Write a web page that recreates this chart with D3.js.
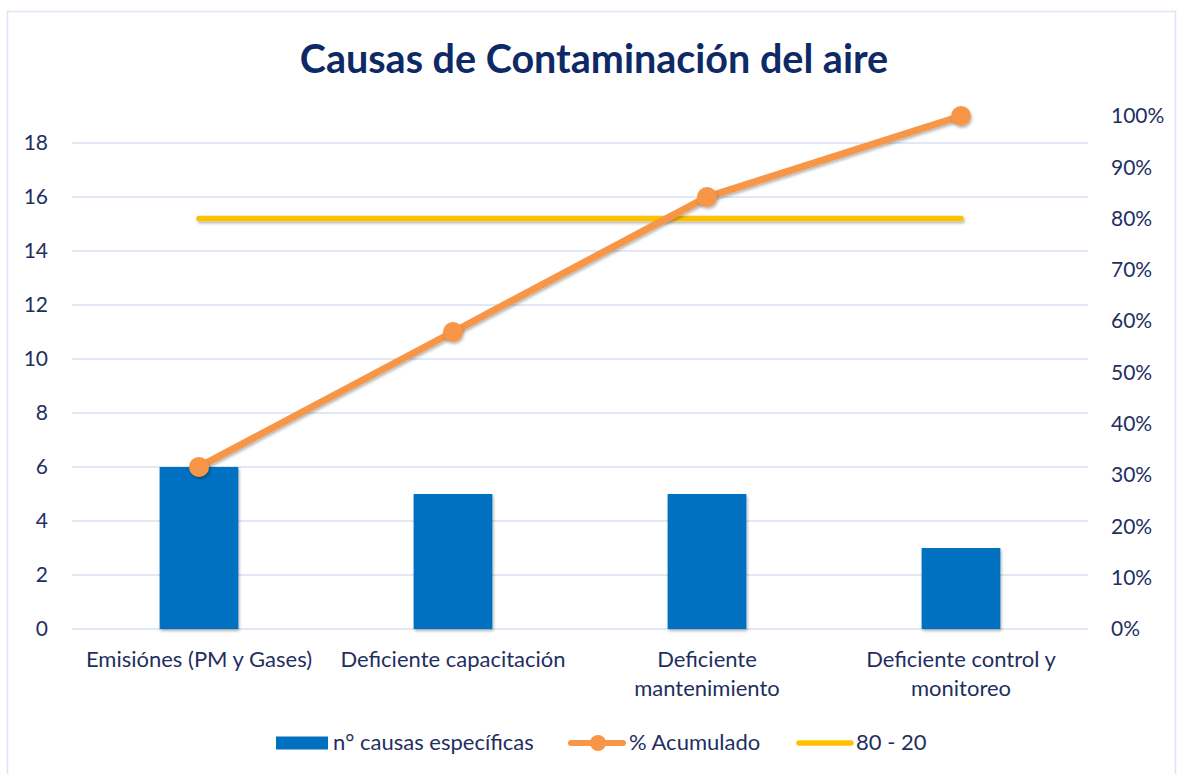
<!DOCTYPE html>
<html>
<head>
<meta charset="utf-8">
<script src="https://cdn.jsdelivr.net/npm/d3@7"></script>
<style>
  body { margin: 0; background: #fff; }
  svg { display: block; font-family: Lato, "Open Sans", sans-serif; }
</style>
</head>
<body>
<div id="chart"></div>
<script>
// Data
const categories = ['Emisiónes (PM y Gases)', 'Deficiente capacitación', 'Deficiente mantenimiento', 'Deficiente control y monitoreo'];
const categoryLines = [['Emisiónes (PM y Gases)'], ['Deficiente capacitación'], ['Deficiente', 'mantenimiento'], ['Deficiente control y', 'monitoreo']];
const counts = [6, 5, 5, 3];
const cumulative = [0.316, 0.579, 0.842, 1.0];
const threshold = [0.8, 0.8, 0.8, 0.8];
const leftTicks = [0, 2, 4, 6, 8, 10, 12, 14, 16, 18];
const rightTicks = [0, 0.1, 0.2, 0.3, 0.4, 0.5, 0.6, 0.7, 0.8, 0.9, 1.0];

const width = 1179, height = 774;
const margin = { top: 116, right: 91, bottom: 145, left: 72 };
const textColor = '#1f2f5f';
const gridColor = '#d6e2f1';
const barColor = '#0070c0';
const lineColor = '#f79646';
const yellow = '#ffc000';
const tickSize = '21px';
const catSize = '22px';
const legendSize = '22px';

const svg = d3.select('#chart').append('svg')
    .attr('width', width)
    .attr('height', height);

// Shadow filter for marks (user space so flat lines still render)
const defs = svg.append('defs');
const shadow = defs.append('filter').attr('id', 'shadow')
    .attr('filterUnits', 'userSpaceOnUse')
    .attr('x', -200).attr('y', -200).attr('width', width + 400).attr('height', height + 400);
shadow.append('feDropShadow').attr('dx', 1).attr('dy', 2).attr('stdDeviation', 1.5).attr('flood-color', '#000').attr('flood-opacity', 0.3);

// Outer chart border
svg.append('rect')
    .attr('x', 7.5).attr('y', 11.5)
    .attr('width', 1168).attr('height', 770)
    .attr('fill', 'none')
    .attr('stroke', '#dae6f3')
    .attr('stroke-width', 1.5);

// Title
svg.append('text')
    .attr('x', 594).attr('y', 73)
    .attr('text-anchor', 'middle')
    .attr('fill', '#0e2a66')
    .style('font-size', '39.5px')
    .style('font-weight', '700')
    .text('Causas de Contaminación del aire');

const plotW = width - margin.left - margin.right;
const plotH = height - margin.top - margin.bottom;

const g = svg.append('g').attr('transform', `translate(${margin.left},${margin.top})`);

const x = d3.scaleBand().domain(categories).range([0, plotW]).paddingInner(0.69).paddingOuter(0.345);
const xc = d => x(d) + x.bandwidth() / 2;
const yL = d3.scaleLinear().domain([0, 19]).range([plotH, 0]);
const yR = d3.scaleLinear().domain([0, 1]).range([plotH, 0]);

// Gridlines (left axis)
g.append('g')
    .selectAll('line')
    .data(leftTicks)
    .join('line')
    .attr('x1', 0).attr('x2', plotW)
    .attr('y1', d => yL(d)).attr('y2', d => yL(d))
    .attr('stroke', gridColor)
    .attr('stroke-width', 1.5);

// Left axis
const leftAxis = g.append('g')
    .call(d3.axisLeft(yL).tickValues(leftTicks).tickSize(0).tickPadding(24));
leftAxis.select('.domain').remove();
leftAxis.selectAll('text').attr('fill', textColor).style('font-size', tickSize).style('font-family', 'Lato, sans-serif');

// Right axis
const rightAxis = g.append('g')
    .attr('transform', `translate(${plotW},0)`)
    .call(d3.axisRight(yR).tickValues(rightTicks).tickFormat(d3.format('.0%')).tickSize(0).tickPadding(23));
rightAxis.select('.domain').remove();
rightAxis.selectAll('text').attr('fill', textColor).style('font-size', tickSize).style('font-family', 'Lato, sans-serif');

// Bars
g.append('g')
    .selectAll('rect')
    .data(categories)
    .join('rect')
    .attr('x', d => x(d))
    .attr('y', (d, i) => yL(counts[i]))
    .attr('width', x.bandwidth())
    .attr('height', (d, i) => plotH - yL(counts[i]))
    .attr('fill', barColor)
    .attr('filter', 'url(#shadow)');

// 80 - 20 line
g.append('path')
    .datum(categories)
    .attr('fill', 'none')
    .attr('stroke', yellow)
    .attr('stroke-width', 5.5)
    .attr('stroke-linecap', 'round')
    .attr('filter', 'url(#shadow)')
    .attr('d', d3.line().x(d => xc(d)).y((d, i) => yR(threshold[i])));

// Cumulative line
g.append('path')
    .datum(categories)
    .attr('fill', 'none')
    .attr('stroke', lineColor)
    .attr('stroke-width', 7)
    .attr('stroke-linecap', 'round')
    .attr('filter', 'url(#shadow)')
    .attr('d', d3.line().x(d => xc(d)).y((d, i) => yR(cumulative[i])));

g.append('g')
    .selectAll('circle')
    .data(categories)
    .join('circle')
    .attr('cx', d => xc(d))
    .attr('cy', (d, i) => yR(cumulative[i]))
    .attr('r', 10)
    .attr('fill', lineColor)
    .attr('filter', 'url(#shadow)');

// Category labels
const catLabels = g.append('g')
    .selectAll('text')
    .data(categories)
    .join('text')
    .attr('x', d => xc(d))
    .attr('y', plotH + 38)
    .attr('text-anchor', 'middle')
    .attr('fill', textColor)
    .style('font-size', catSize);
catLabels.each(function (d, i) {
    d3.select(this).selectAll('tspan')
        .data(categoryLines[i])
        .join('tspan')
        .attr('x', xc(d))
        .attr('dy', (t, j) => j === 0 ? 0 : 29)
        .text(t => t);
});

// Legend
const legend = svg.append('g').attr('transform', 'translate(0,743)');
legend.append('rect').attr('x', 276).attr('y', -6.5).attr('width', 52).attr('height', 13).attr('fill', barColor);
legend.append('text').attr('x', 333).attr('y', 7).attr('fill', textColor).style('font-size', legendSize).text('n° causas específicas');

legend.append('line').attr('x1', 571).attr('x2', 623).attr('y1', 0).attr('y2', 0)
    .attr('stroke', lineColor).attr('stroke-width', 6).attr('stroke-linecap', 'round');
legend.append('circle').attr('cx', 598).attr('cy', 0).attr('r', 8).attr('fill', lineColor);
legend.append('text').attr('x', 629).attr('y', 7).attr('fill', textColor).style('font-size', legendSize).text('% Acumulado');

legend.append('line').attr('x1', 799).attr('x2', 851).attr('y1', 0).attr('y2', 0)
    .attr('stroke', yellow).attr('stroke-width', 5.5).attr('stroke-linecap', 'round');
legend.append('text').attr('x', 856).attr('y', 7).attr('fill', textColor).style('font-size', legendSize).text('80 - 20');
</script>
</body>
</html>
